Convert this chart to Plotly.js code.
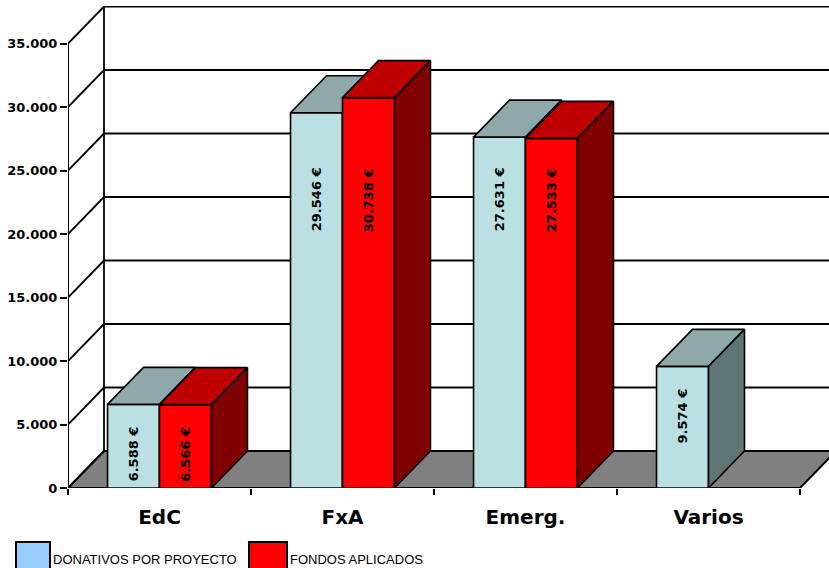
<!DOCTYPE html>
<html>
<head>
<meta charset="utf-8">
<script src="https://cdn.plot.ly/plotly-3.0.1.min.js"></script>
<style>html,body{margin:0;padding:0;background:#fff;}#chart{width:829px;height:568px;}</style>
</head>
<body>
<div id="chart"></div>
<script>
// ---- data ----
var categories = ['EdC', 'FxA', 'Emerg.', 'Varios'];
var donativos = [6588, 29546, 27631, 9574];
var fondos = [6566, 30738, 27533, null];
var yTicks = [0, 5000, 10000, 15000, 20000, 25000, 30000, 35000];
var seriesNames = ['DONATIVOS POR PROYECTO', 'FONDOS APLICADOS'];

// ---- geometry / style ----
var W = 829, H = 568, ML = 68, MR = 0, MT = 6, MB = 80;
var plotW = W - ML - MR, plotH = H - MT - MB;
var catPx = 183;
var XMIN = -0.5, XMAX = -0.5 + plotW / catPx;
var pxPerY = 444.5 / 35000;
var YMAX = plotH / pxPerY;
var DX = 36 / catPx, DY = 37 / pxPerY;
var BW = 0.284;
var yTop = yTicks[yTicks.length - 1];

var colBlue = {front: '#BBE0E3', top: '#8FA9AA', side: '#5F7475', legend: '#99CCFF'};
var colRed = {front: '#FF0000', top: '#C00000', side: '#800000', legend: '#FF0000'};
var LW = 1.6;

function fmt(v) { return String(v).replace(/\B(?=(\d{3})+(?!\d))/g, '.') + ' \u20AC'; }

function faceTraces(vals, offset, col, xa, ya) {
  var out = [];
  out.push({
    type: 'bar', x: categories.map(function (c, i) { return i; }), y: vals,
    width: BW, offset: offset, xaxis: xa, yaxis: ya,
    marker: {color: col.front, line: {color: '#000', width: LW}},
    hoverinfo: 'skip', showlegend: false
  });
  vals.forEach(function (v, i) {
    if (v === null) return;
    var x0 = i + offset, x1 = x0 + BW;
    out.push({
      type: 'scatter', mode: 'lines', fill: 'toself', fillcolor: col.top,
      x: [x0, x1, x1 + DX, x0 + DX, x0], y: [v, v, v + DY, v + DY, v],
      line: {color: '#000', width: LW}, xaxis: xa, yaxis: ya, hoverinfo: 'skip', showlegend: false
    });
    out.push({
      type: 'scatter', mode: 'lines', fill: 'toself', fillcolor: col.side,
      x: [x1, x1, x1 + DX, x1 + DX, x1], y: [0, v, v + DY, DY, 0],
      line: {color: '#000', width: LW}, xaxis: xa, yaxis: ya, hoverinfo: 'skip', showlegend: false
    });
  });
  return out;
}

var traces = faceTraces(donativos, -BW, colBlue, 'x', 'y').concat(faceTraces(fondos, 0, colRed, 'x2', 'y2'));

// ---- walls, floor, axes lines ----
var shapes = [];
var gl = {color: '#000', width: 1.8};
shapes.push({type: 'path', xref: 'x', yref: 'y', layer: 'below',
  path: 'M' + XMIN + ',0 L' + (categories.length - 0.5) + ',0 L' + (categories.length - 0.5 + DX) + ',' + DY +
        ' L' + (XMIN + DX) + ',' + DY + ' Z',
  fillcolor: '#808080', line: {color: '#000', width: 2}});
yTicks.forEach(function (v) {
  shapes.push({type: 'line', xref: 'x', yref: 'y', layer: 'below', x0: XMIN, y0: v, x1: XMIN + DX, y1: v + DY, line: gl});
  if (v > 0) shapes.push({type: 'line', xref: 'x', yref: 'y', layer: 'below', x0: XMIN + DX, y0: v + DY, x1: XMAX + 0.05, y1: v + DY, line: gl});
});
shapes.push({type: 'line', xref: 'x', yref: 'y', layer: 'below', x0: XMIN + DX, y0: DY, x1: XMIN + DX, y1: yTop + DY, line: gl});
shapes.push({type: 'line', xref: 'x', yref: 'y', layer: 'below', x0: XMIN, y0: 0, x1: XMIN, y1: yTop, line: {color: '#000', width: 2}});

// ---- legend (drawn) ----
function px2paperX(p) { return (p - ML) / plotW; }
function px2paperY(p) { return (H - MB - p) / plotH; }
var legendItems = [
  {x0: 16, x1: 50, tx: 51, col: colBlue.legend, name: seriesNames[0]},
  {x0: 249, x1: 287, tx: 288, col: colRed.legend, name: seriesNames[1]}
];
var annotations = [];
legendItems.forEach(function (it) {
  shapes.push({type: 'rect', xref: 'paper', yref: 'paper', x0: px2paperX(it.x0), x1: px2paperX(it.x1),
    y0: px2paperY(542), y1: px2paperY(580), fillcolor: it.col, line: {color: '#000', width: 2}});
  annotations.push({xref: 'paper', yref: 'paper', x: px2paperX(it.tx), y: px2paperY(559), xanchor: 'left', yanchor: 'middle',
    text: it.name, showarrow: false,
    font: {family: 'Liberation Sans, Arial, sans-serif', size: 13, color: '#000'}});
});

// ---- value labels ----
function labelY(v) { return Math.min(v - 3900, 22700); }
[[donativos, -BW / 2], [fondos, BW / 2]].forEach(function (s) {
  s[0].forEach(function (v, i) {
    if (v === null) return;
    annotations.push({xref: 'x', yref: 'y', x: i + s[1], y: labelY(v), text: fmt(v), textangle: -90,
      showarrow: false, font: {family: 'DejaVu Sans, sans-serif', size: 13, color: '#000', weight: 'bold'}});
  });
});

var layout = {
  width: W, height: H, margin: {l: ML, r: MR, t: MT, b: MB},
  paper_bgcolor: '#fff', plot_bgcolor: '#fff', showlegend: false,
  separators: ',.',
  xaxis: {range: [XMIN, XMAX], tickvals: [-0.5, 0.5, 1.5, 2.5, 3.5], ticktext: ['', '', '', '', ''],
    ticks: 'outside', ticklen: 6, tickwidth: 2, tickcolor: '#000', showgrid: false, zeroline: false, showline: false, fixedrange: true},
  xaxis2: {overlaying: 'x', matches: 'x', side: 'bottom', tickvals: [0, 1, 2, 3], ticktext: categories,
    ticks: 'outside', ticklen: 11, tickcolor: 'rgba(0,0,0,0)', showgrid: false, zeroline: false, showline: false,
    tickfont: {family: 'DejaVu Sans, sans-serif', size: 20, color: '#000', weight: 'bold'}, fixedrange: true},
  yaxis: {range: [0, YMAX], tickvals: yTicks, tickformat: ',d', ticks: 'outside', ticklen: 7, tickwidth: 2, tickcolor: '#000',
    showgrid: false, zeroline: false, showline: false,
    tickfont: {family: 'DejaVu Sans, sans-serif', size: 13, color: '#000', weight: 'bold'}, fixedrange: true},
  yaxis2: {overlaying: 'y', matches: 'y', showticklabels: false, ticks: '', showgrid: false, zeroline: false, fixedrange: true},
  shapes: shapes, annotations: annotations
};

Plotly.newPlot('chart', traces, layout, {displayModeBar: false, staticPlot: true});
</script>
</body>
</html>
